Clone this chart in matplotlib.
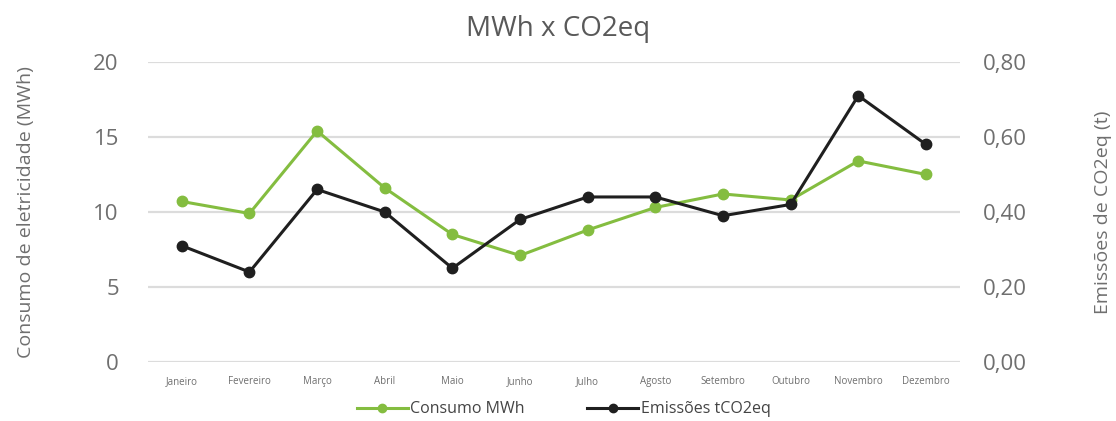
import matplotlib
matplotlib.use("Agg")
import matplotlib.pyplot as plt
from matplotlib.ticker import FuncFormatter

plt.rcParams['font.family'] = ['Open Sans', 'DejaVu Sans']

meses = ["Janeiro", "Fevereiro", "Março", "Abril", "Maio", "Junho",
         "Julho", "Agosto", "Setembro", "Outubro", "Novembro", "Dezembro"]
consumo_mwh = [10.7, 9.9, 15.4, 11.6, 8.5, 7.1, 8.8, 10.3, 11.2, 10.8, 13.4, 12.5]
emissoes_t = [0.31, 0.24, 0.46, 0.40, 0.25, 0.38, 0.44, 0.44, 0.39, 0.42, 0.71, 0.58]

verde = "#84bd40"
preto = "#1f1f1f"
cinza_txt = "#6f6f6f"
cinza_grid = "#dcdcdc"

fig = plt.figure(figsize=(11.16, 4.21), dpi=100)
ax = fig.add_axes([0.1326, 0.140, 0.7274, 0.713])
ax2 = ax.twinx()

x = list(range(len(meses)))
l1, = ax.plot(x, consumo_mwh, color=verde, lw=2.2, marker="o", ms=7.5,
              label="Consumo MWh", zorder=3)
l2, = ax2.plot(x, emissoes_t, color=preto, lw=2.2, marker="o", ms=7.5,
               label="Emissões tCO2eq", zorder=3)

ax.set_xlim(-0.5, len(meses) - 0.5)
ax.set_ylim(0, 20)
ax.set_yticks([0, 5, 10, 15, 20])
ax2.set_ylim(0, 0.8)
ax2.set_yticks([0, 0.2, 0.4, 0.6, 0.8])
ax2.yaxis.set_major_formatter(FuncFormatter(lambda v, p: f"{v:.2f}".replace(".", ",")))

ax.yaxis.grid(True, color=cinza_grid, lw=1.6)
ax.set_axisbelow(True)
for a in (ax, ax2):
    for s in a.spines.values():
        s.set_visible(False)
    a.tick_params(length=0)

ax.set_xticks(x)
ax.set_xticklabels(meses, fontsize=7, color=cinza_txt)
ax.tick_params(axis="x", pad=10)
ax.tick_params(axis="y", labelsize=16, labelcolor=cinza_txt, pad=21)
ax2.tick_params(axis="y", labelsize=16, labelcolor=cinza_txt, pad=17)

ax.set_ylabel("Consumo de eletricidade (MWh)", fontsize=14, color=cinza_txt, labelpad=42)
ax2.set_ylabel("Emissões de CO2eq (t)", fontsize=14, color=cinza_txt, labelpad=48)

fig.suptitle("MWh x CO2eq", fontsize=20, color="#595959", y=0.965)

fig.legend(handles=[l1, l2], loc="center", bbox_to_anchor=(0.505, 0.028),
           ncol=2, frameon=False, fontsize=11.5, labelcolor="#444444",
           handlelength=3.2, handletextpad=0.15, columnspacing=3.9,
           markerscale=0.8)

fig.savefig("out.png", dpi=100)
